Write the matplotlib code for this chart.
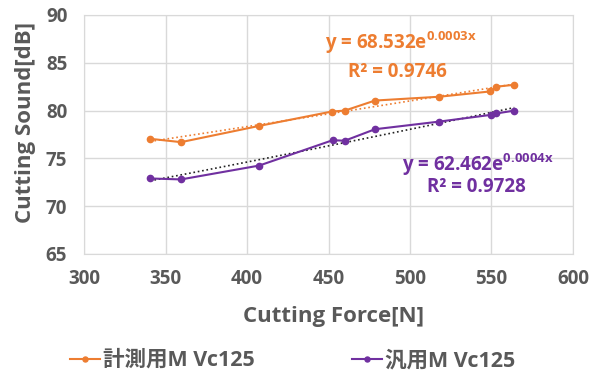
import matplotlib
matplotlib.use("Agg")
import matplotlib.pyplot as plt
import numpy as np

plt.rcParams["font.family"] = ["Open Sans", "Noto Sans CJK JP", "DejaVu Sans"]
plt.rcParams["font.weight"] = "bold"
plt.rcParams["mathtext.fontset"] = "custom"
plt.rcParams["mathtext.rm"] = "Open Sans:bold"
plt.rcParams["mathtext.it"] = "Open Sans:bold"

# cutting force [N] vs cutting sound [dB]
force_keisoku = [340.5, 359.5, 407.5, 452, 460, 478.5, 518, 549, 553, 564]
sound_keisoku = [77.05, 76.7, 78.4, 79.9, 80.0, 81.05, 81.45, 82.0, 82.5, 82.7]
force_hanyo = [340.5, 359.5, 407.5, 452.5, 460, 478.5, 518, 549.5, 553, 564]
sound_hanyo = [72.9, 72.8, 74.25, 76.9, 76.85, 78.05, 78.85, 79.55, 79.7, 80.0]

labels = ["計測用M Vc125", "汎用M Vc125"]
fit_texts = [("y = 68.532e$^{\\mathrm{0.0003x}}$", "R² = 0.9746"),
             ("y = 62.462e$^{\\mathrm{0.0004x}}$", "R² = 0.9728")]

ORANGE = "#ED7D31"
PURPLE = "#7030A0"
GRAY = "#595959"
GRID = "#D9D9D9"

fig = plt.figure(figsize=(6.01, 3.74), dpi=100)
ax = fig.add_axes([0.1398, 0.3209, 0.8136, 0.639])


def exp_trend(x, y):
    x = np.asarray(x); y = np.asarray(y)
    b, ln_a = np.polyfit(x, np.log(y), 1)
    xs = np.linspace(x.min(), x.max(), 50)
    return xs, np.exp(ln_a) * np.exp(b * xs)


h1, = ax.plot(force_keisoku, sound_keisoku, "-o", color=ORANGE, lw=1.5, ms=4.5, zorder=3)
h2, = ax.plot(force_hanyo, sound_hanyo, "-o", color=PURPLE, lw=1.5, ms=4.5, zorder=3)

xs, ys = exp_trend(force_keisoku, sound_keisoku)
ax.plot(xs, ys, ":", color=ORANGE, lw=1.2, zorder=2)
xs, ys = exp_trend(force_hanyo, sound_hanyo)
ax.plot(xs, ys, ":", color="#222222", lw=1.2, zorder=2)

ax.set_xlim(300, 600)
ax.set_ylim(65, 90)
ax.set_xticks(np.arange(300, 601, 50))
ax.set_yticks(np.arange(65, 91, 5))
ax.grid(color=GRID, lw=1)
ax.set_axisbelow(True)
for s in ax.spines.values():
    s.set_color(GRID)
ax.tick_params(length=0, labelsize=13.5, colors=GRAY)
ax.tick_params(axis="x", pad=11)
ax.tick_params(axis="y", pad=12)
for t in ax.get_xticklabels() + ax.get_yticklabels():
    t.set_fontweight("bold")

fig.text(0.555, 0.155, "Cutting Force[N]", fontsize=16, color=GRAY,
         fontweight="bold", ha="center", va="center")
fig.text(0.042, 0.672, "Cutting Sound[dB]", fontsize=16, color=GRAY,
         fontweight="bold", ha="center", va="center", rotation=90)

# trendline equations
ax.text(448, 87.07, fit_texts[0][0], color=ORANGE, fontsize=13.5, fontweight="bold", va="center")
ax.text(462, 84.07, fit_texts[0][1], color=ORANGE, fontsize=13.5, fontweight="bold", va="center")
ax.text(495, 74.3, fit_texts[1][0], color=PURPLE, fontsize=13.5, fontweight="bold", va="center")
ax.text(510.5, 72.0, fit_texts[1][1], color=PURPLE, fontsize=13.5, fontweight="bold", va="center")

# legend: one entry per block under the plot
for h, lab, x0 in [(h1, labels[0], 70 / 601), (h2, labels[1], 352 / 601)]:
    fig.legend([h], [lab], loc="center left", bbox_to_anchor=(x0, 0.036),
               frameon=False, fontsize=15.5, labelcolor=GRAY, handlelength=1.4,
               handletextpad=0.15, borderpad=0, borderaxespad=0, markerscale=0.8)

fig.savefig("out.png", dpi=100)
